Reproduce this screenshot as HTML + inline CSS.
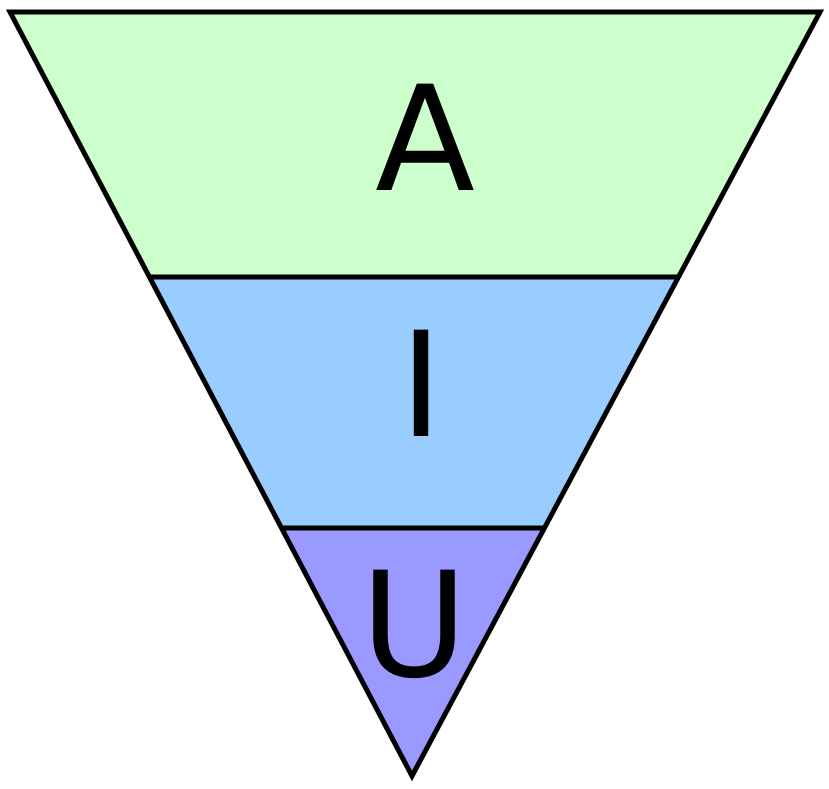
<!DOCTYPE html>
<html><head><meta charset="utf-8"><style>html,body{margin:0;padding:0;background:#fff}svg{display:block}</style></head>
<body>
<svg width="829" height="789" viewBox="0 0 829 789" xmlns="http://www.w3.org/2000/svg">
<polygon points="10,12 820,12 679,277 149,277" fill="#ccffcc"/>
<polygon points="149,277 679,277 545,528 281,528" fill="#99ccff"/>
<polygon points="281,528 545,528 412,776" fill="#9999ff"/>
<polygon points="10,12 820,12 412,776" fill="none" stroke="#000" stroke-width="5" stroke-linejoin="miter"/>
<line x1="149" y1="277" x2="679" y2="277" stroke="#000" stroke-width="5"/>
<line x1="281" y1="528" x2="545" y2="528" stroke="#000" stroke-width="5"/>
<g font-family="DejaVu Sans, Liberation Sans, sans-serif" font-size="146" text-anchor="middle" fill="#000">
<text x="425" y="190">A</text>
<text x="421" y="436">I</text>
<text x="414" y="676">U</text>
</g>
</svg>
</body></html>
